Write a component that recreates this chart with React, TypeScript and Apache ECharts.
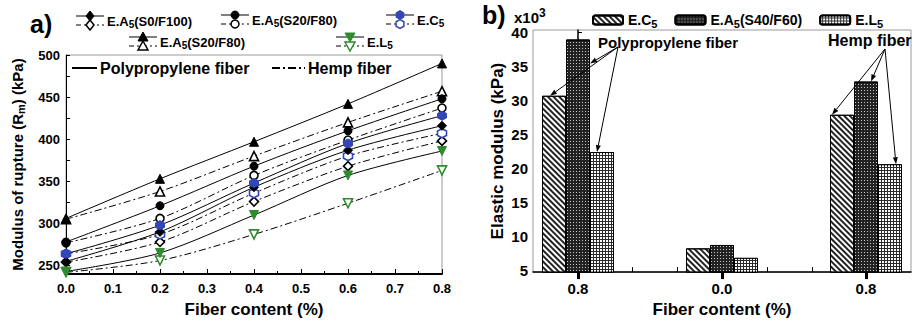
import React, { useEffect, useRef } from 'react';
import * as echarts from 'echarts';

const F = 'Liberation Sans, Arial, sans-serif';

// ---- panel a) data: modulus of rupture (kPa) vs fiber content (%) ----
const fiberContent = [0, 0.2, 0.4, 0.6, 0.8];
const a5S0F100Poly = [255, 290, 343, 387, 416];
const a5S0F100Hemp = [254, 278, 326, 368, 398];
const a5S20F80CirclePoly = [278, 321, 368, 410, 448];
const a5S20F80CircleHemp = [277, 306, 357, 399, 437];
const c5Poly = [264, 298, 348, 395, 428];
const c5Hemp = [264, 287, 336, 380, 407];
const a5S20F80TriPoly = [306, 353, 397, 442, 490];
const a5S20F80TriHemp = [305, 338, 380, 420, 457];
const l5Poly = [243, 265, 310, 357, 386];
const l5Hemp = [242, 256, 287, 324, 363];
const leftYLabels = [250, 300, 350, 400, 450, 500];
const leftYTicks = [250, 275, 300, 325, 350, 375, 400, 425, 450, 475, 500];

// ---- panel b) data: elastic modulus (x10^3 kPa) ----
const barCategories = ['0.8', '0.0', '0.8'];
const barPositions = [0, 1, 2];
const c5Bars = [30.7, 8.2, 27.9];
const a5S40F60Bars = [39.0, 8.7, 32.8];
const l5Bars = [22.4, 6.8, 20.6];
const rightYLabels = [5, 10, 15, 20, 25, 30, 35, 40];
const rightYTicks = [5, 7.5, 10, 12.5, 15, 17.5, 20, 22.5, 25, 27.5, 30, 32.5, 35, 37.5, 40];
const rightXMinorTicks = [0.375, 0.6875, 1.3125, 1.625];

const BLUE = '#3346b8';
const GREEN = '#2e8b2e';
const HEX = 'path://M5,0L9.33,2.5L9.33,7.5L5,10L0.67,7.5L0.67,2.5Z';
const DTRI = 'path://M0,0L10,0L5,9Z';
const DASHDOT = [7, 3, 2, 3];

const subRich = (size: number) => ({
  s: { fontSize: size, fontWeight: 'bold', fontFamily: F, padding: [Math.round(size * 0.6), 0, 0, 0] },
});

function lineSeries(name: string, data: number[], symbol: string, color: string, filled: boolean, hemp: boolean) {
  return {
    type: 'line',
    name,
    xAxisIndex: 0,
    yAxisIndex: 0,
    data: fiberContent.map((x, i) => [x, data[i]]),
    smooth: 0.3,
    symbol,
    symbolSize: symbol === 'circle' ? 8 : 9,
    lineStyle: { color: '#000', width: 1, type: hemp ? DASHDOT : 'solid' },
    itemStyle: { color: filled ? color : '#fff', borderColor: color, borderWidth: filled ? 1 : 1.6 },
    z: filled ? 4 : 3,
  };
}

function barSeries(name: string, data: number[], base: string, decal: any) {
  return {
    type: 'bar',
    name,
    xAxisIndex: 1,
    yAxisIndex: 1,
    data: barPositions.map((x, i) => [x, data[i]]),
    barWidth: 24,
    barGap: '0%',
    itemStyle: { color: base, borderColor: '#000', borderWidth: 1, decal },
  };
}

function symbolShape(kind: string, cx: number, cy: number, color: string, filled: boolean): any {
  const style = { fill: filled ? color : '#fff', stroke: color, lineWidth: filled ? 1 : 1.5 };
  if (kind === 'circle') return { type: 'circle', shape: { cx, cy, r: 4 }, style, z: 10 };
  let pts: number[][] = [];
  if (kind === 'diamond') pts = [[cx, cy - 5], [cx + 4, cy], [cx, cy + 5], [cx - 4, cy]];
  if (kind === 'triangle') pts = [[cx, cy - 5], [cx + 5, cy + 4], [cx - 5, cy + 4]];
  if (kind === 'dtri') pts = [[cx - 5, cy - 4], [cx + 5, cy - 4], [cx, cy + 5]];
  if (kind === 'hex') {
    for (let k = 0; k < 6; k++) {
      const a = Math.PI / 6 + (k * Math.PI) / 3;
      pts.push([cx + 4.5 * Math.cos(a), cy + 4.5 * Math.sin(a)]);
    }
  }
  return { type: 'polygon', shape: { points: pts }, style, z: 10 };
}

function legendItem(x: number, y: number, kind: string, color: string, label: string): any[] {
  return [
    { type: 'line', shape: { x1: x, y1: y, x2: x + 28, y2: y }, style: { stroke: '#000', lineWidth: 1 } },
    { type: 'line', shape: { x1: x, y1: y + 9, x2: x + 28, y2: y + 9 }, style: { stroke: '#000', lineWidth: 1, lineDash: [5, 3, 2, 3] } },
    symbolShape(kind, x + 14, y, color, true),
    symbolShape(kind, x + 14, y + 9, color, false),
    {
      type: 'text',
      x: x + 31,
      y: y + 5,
      style: { text: label, fontFamily: F, fontSize: 13, fontWeight: 'bold', fill: '#000', verticalAlign: 'middle', rich: subRich(10) },
    },
  ];
}

function arrow(x1: number, y1: number, x2: number, y2: number): any[] {
  const ang = Math.atan2(y2 - y1, x2 - x1);
  const L = 7, W = 2.5;
  const bx = x2 - L * Math.cos(ang), by = y2 - L * Math.sin(ang);
  const px = -Math.sin(ang) * W, py = Math.cos(ang) * W;
  return [
    { type: 'line', shape: { x1, y1, x2: bx, y2: by }, style: { stroke: '#000', lineWidth: 1 }, z: 20 },
    { type: 'polygon', shape: { points: [[x2, y2], [bx + px, by + py], [bx - px, by - py]] }, style: { fill: '#000' }, z: 20 },
  ];
}

export default function App() {
  const ref = useRef<HTMLDivElement>(null);
  useEffect(() => {
    if (!ref.current) return;
    const chart = echarts.init(ref.current, undefined, { renderer: 'svg' });
    const axisLbl = (size: number) => ({ fontFamily: F, fontSize: size, fontWeight: 'bold', color: '#000' });
    const option: any = {
      animation: false,
      backgroundColor: '#fff',
      grid: [
        { left: 66, right: 471, top: 55, bottom: 43, show: true, borderColor: '#9a9a9a', borderWidth: 1 },
        { left: 533, right: 2, top: 30, bottom: 45, show: true, borderColor: '#9a9a9a', borderWidth: 1 },
      ],
      legend: {
        data: ['E.C5', 'E.A5(S40/F60)', 'E.L5'],
        left: 587,
        top: 8,
        itemWidth: 30,
        itemHeight: 9,
        itemGap: 17,
        selectedMode: false,
        formatter: (n: string) => n.replace(/([A-Z])5/, '$1{s|5}'),
        textStyle: { fontFamily: F, fontSize: 14, fontWeight: 'bold', color: '#000', rich: subRich(11) },
      },
      xAxis: [
        {
          type: 'value', gridIndex: 0, min: 0, max: 0.8, interval: 0.1,
          axisLine: { lineStyle: { color: '#000', width: 2 } },
          axisTick: { inside: true, length: 5, lineStyle: { color: '#000' } },
          minorTick: { show: true, splitNumber: 2, length: 3, lineStyle: { color: '#000' } },
          splitLine: { show: false },
          axisLabel: { ...axisLbl(13), margin: 8, formatter: (v: number) => v.toFixed(1) },
          name: 'Fiber content (%)', nameLocation: 'middle', nameGap: 27,
          nameTextStyle: { fontFamily: F, fontSize: 17, fontWeight: 'bold', color: '#000' },
        },
        {
          type: 'value', gridIndex: 1, min: -0.3125, max: 2.3125, position: 'bottom',
          axisLine: { lineStyle: { color: '#000', width: 1.5 } },
          axisTick: { customValues: barPositions, length: 7, lineStyle: { color: '#000', width: 3 } },
          splitLine: { show: false },
          axisLabel: { ...axisLbl(15), margin: 9, customValues: barPositions, formatter: (v: number) => barCategories[Math.round(v)] },
          name: 'Fiber content (%)', nameLocation: 'middle', nameGap: 24,
          nameTextStyle: { fontFamily: F, fontSize: 17, fontWeight: 'bold', color: '#000' },
        },
        {
          type: 'value', gridIndex: 1, min: -0.3125, max: 2.3125, position: 'bottom',
          axisLine: { show: false },
          axisTick: { inside: true, customValues: rightXMinorTicks, length: 5, lineStyle: { color: '#000', width: 1 } },
          splitLine: { show: false },
          axisLabel: { show: false },
        },
      ],
      yAxis: [
        {
          type: 'value', gridIndex: 0, min: 240, max: 500,
          axisLine: { show: true, lineStyle: { color: '#000', width: 1 } },
          axisTick: { inside: true, length: 4, customValues: leftYTicks, lineStyle: { color: '#000' } },
          splitLine: { show: false },
          axisLabel: { ...axisLbl(13), margin: 6, customValues: leftYLabels },
          name: 'Modulus of rupture (R{s|m}) (kPa)', nameLocation: 'middle', nameGap: 40,
          nameTextStyle: { fontFamily: F, fontSize: 15, fontWeight: 'bold', color: '#000', rich: subRich(11) },
        },
        {
          type: 'value', gridIndex: 1, min: 4.7, max: 40.4,
          axisLine: { show: true, lineStyle: { color: '#000', width: 1.5 } },
          axisTick: { inside: true, length: 4, customValues: rightYTicks, lineStyle: { color: '#000' } },
          splitLine: { show: false },
          axisLabel: { ...axisLbl(15), margin: 5, customValues: rightYLabels },
          name: 'Elastic modulus (kPa)', nameLocation: 'middle', nameGap: 27,
          nameTextStyle: { fontFamily: F, fontSize: 17, fontWeight: 'bold', color: '#000' },
        },
      ],
      series: [
        lineSeries('S0/F100 PP', a5S0F100Poly, 'diamond', '#000', true, false),
        lineSeries('S0/F100 Hemp', a5S0F100Hemp, 'diamond', '#000', false, true),
        lineSeries('S20/F80 circle PP', a5S20F80CirclePoly, 'circle', '#000', true, false),
        lineSeries('S20/F80 circle Hemp', a5S20F80CircleHemp, 'circle', '#000', false, true),
        lineSeries('C5 PP', c5Poly, HEX, BLUE, true, false),
        lineSeries('C5 Hemp', c5Hemp, HEX, BLUE, false, true),
        lineSeries('S20/F80 tri PP', a5S20F80TriPoly, 'triangle', '#000', true, false),
        lineSeries('S20/F80 tri Hemp', a5S20F80TriHemp, 'triangle', '#000', false, true),
        lineSeries('L5 PP', l5Poly, DTRI, GREEN, true, false),
        lineSeries('L5 Hemp', l5Hemp, DTRI, GREEN, false, true),
        barSeries('E.C5', c5Bars, '#ffffff', {
          symbol: 'rect', symbolSize: 1, color: '#222', dashArrayX: [1, 0], dashArrayY: [1.2, 1.3], rotation: Math.PI / 4,
        }),
        barSeries('E.A5(S40/F60)', a5S40F60Bars, '#222222', {
          symbol: 'rect', symbolSize: 1, color: 'rgba(255,255,255,0.75)', dashArrayX: [1, 2], dashArrayY: [1, 2], rotation: 0,
        }),
        barSeries('E.L5', l5Bars, '#2a2a2a', {
          symbol: 'rect', symbolSize: 1, color: '#ffffff', dashArrayX: [1.6, 1], dashArrayY: [1.6, 1], rotation: 0,
        }),
      ],
    };
    chart.setOption(option);

    const px = (si: number, x: number, y: number) => chart.convertToPixel({ seriesIndex: si }, [x, y]) as number[];
    const g: any[] = [];
    // panel labels
    g.push({ type: 'text', x: 30, y: 24, style: { text: 'a)', fontFamily: F, fontSize: 25, fontWeight: 'bold', fill: '#000', verticalAlign: 'middle' } });
    g.push({ type: 'text', x: 482, y: 15, style: { text: 'b)', fontFamily: F, fontSize: 25, fontWeight: 'bold', fill: '#000', verticalAlign: 'middle' } });
    // left legend
    g.push(...legendItem(76, 16, 'diamond', '#000', 'E.A{s|5}(S0/F100)'));
    g.push(...legendItem(221, 15, 'circle', '#000', 'E.A{s|5}(S20/F80)'));
    g.push(...legendItem(386, 15, 'hex', BLUE, 'E.C{s|5}'));
    g.push(...legendItem(129, 37, 'triangle', '#000', 'E.A{s|5}(S20/F80)'));
    g.push(...legendItem(336, 37, 'dtri', GREEN, 'E.L{s|5}'));
    // in-plot fiber legend
    g.push({ type: 'line', shape: { x1: 72, y1: 68, x2: 97, y2: 68 }, style: { stroke: '#000', lineWidth: 2 } });
    g.push({ type: 'text', x: 100, y: 68, style: { text: 'Polypropylene fiber', fontFamily: F, fontSize: 16, fontWeight: 'bold', fill: '#000', verticalAlign: 'middle' } });
    g.push({ type: 'line', shape: { x1: 272, y1: 68, x2: 305, y2: 68 }, style: { stroke: '#000', lineWidth: 2, lineDash: [8, 3, 2, 3] } });
    g.push({ type: 'text', x: 308, y: 68, style: { text: 'Hemp fiber', fontFamily: F, fontSize: 16, fontWeight: 'bold', fill: '#000', verticalAlign: 'middle' } });
    // x10^3
    g.push({ type: 'text', x: 514, y: 17, style: { text: 'x10{p|3}', fontFamily: F, fontSize: 15, fontWeight: 'bold', fill: '#000', verticalAlign: 'middle', rich: { p: { fontSize: 12, fontWeight: 'bold', fontFamily: F, padding: [0, 0, 9, 0] } } } });

    // annotation arrows (panel b), pointing at bar tops located through the chart's scales
    const BW = 24;
    const c0 = px(10, 0, c5Bars[0]);
    const a0 = px(11, 0, a5S40F60Bars[0]);
    const l0 = px(12, 0, l5Bars[0]);
    const o0x = a0[0] + 40, o0y = 47;
    g.push({ type: 'text', x: a0[0] + 20, y: 42, style: { text: 'Polypropylene fiber', fontFamily: F, fontSize: 15, fontWeight: 'bold', fill: '#000', verticalAlign: 'middle' }, z: 20 });
    g.push(...arrow(o0x, o0y, a0[0] + BW / 2, a0[1] + 24));
    g.push(...arrow(o0x, o0y, c0[0] - BW - 4, c0[1]));
    g.push(...arrow(o0x, o0y, l0[0] + BW - 5, l0[1]));

    const c2 = px(10, 2, c5Bars[2]);
    const a2 = px(11, 2, a5S40F60Bars[2]);
    const l2 = px(12, 2, l5Bars[2]);
    const o2x = a2[0] + 19, o2y = 49;
    g.push({ type: 'text', x: a2[0] - 38, y: 40, style: { text: 'Hemp fiber', fontFamily: F, fontSize: 16, fontWeight: 'bold', fill: '#000', verticalAlign: 'middle' }, z: 20 });
    g.push(...arrow(o2x, o2y, c2[0] - BW - 10, c2[1]));
    g.push(...arrow(o2x, o2y, a2[0] + 5, a2[1]));
    g.push(...arrow(o2x, o2y, l2[0] + BW + 6, l2[1]));

    chart.setOption({ graphic: g });
    return () => chart.dispose();
  }, []);
  return <div ref={ref} style={{ width: 913, height: 323, position: 'absolute', left: 0, top: 0 }} />;
}
